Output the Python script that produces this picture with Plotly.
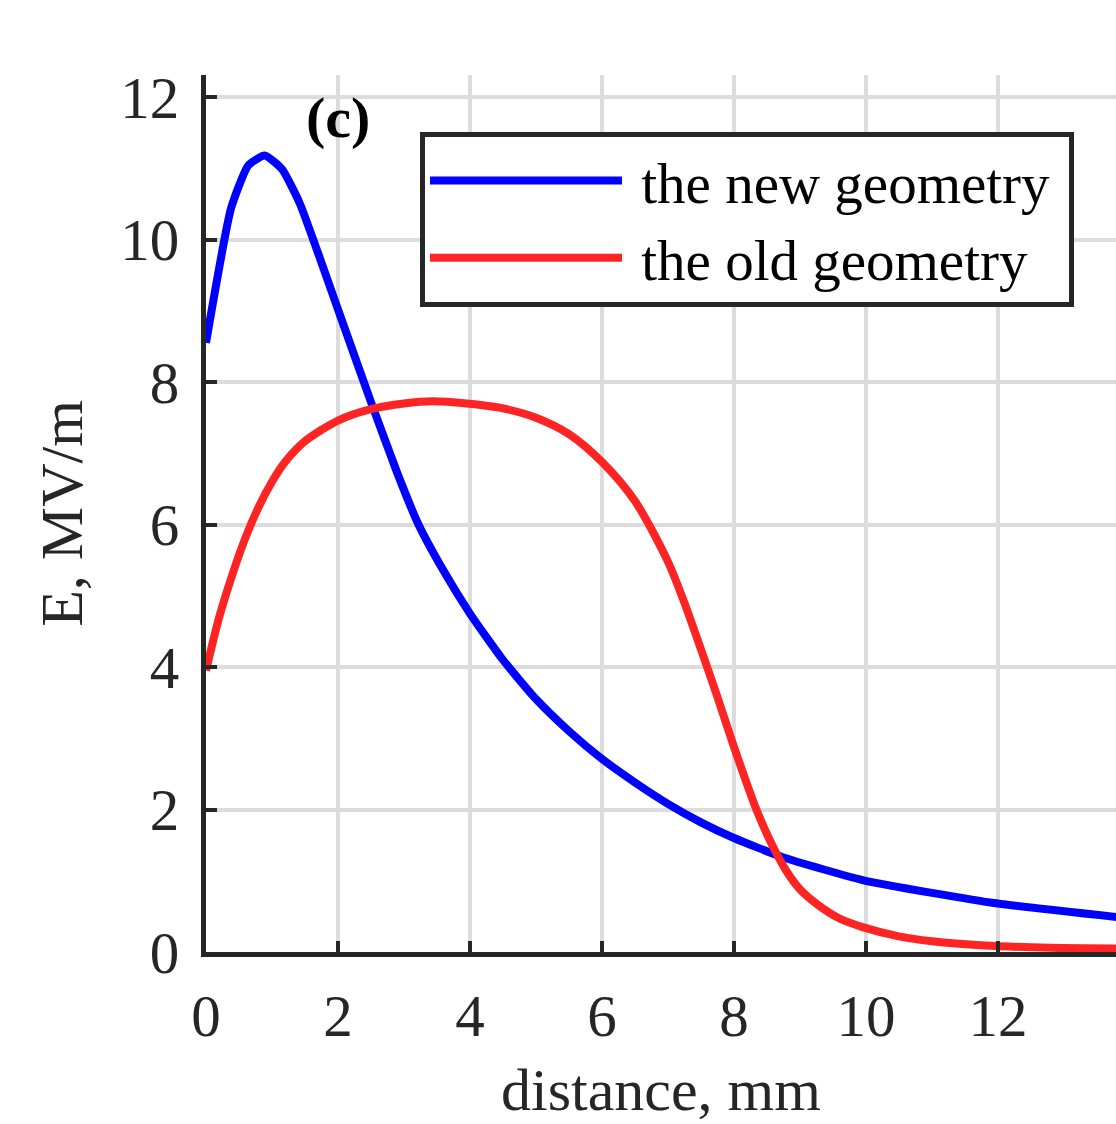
import plotly.graph_objects as go

# Data
new_x = [0, 0.38, 0.64, 0.89, 1.15, 1.42, 2.0, 2.5, 2.9, 3.22, 3.6, 4.0, 4.5, 5.0,
         5.5, 6.0, 6.5, 7.0, 7.5, 8.0, 8.74, 9.95, 11.0, 12.0, 13.8]
new_y = [8.55, 10.44, 11.04, 11.18, 10.99, 10.51, 9.02, 7.72, 6.72, 6.0, 5.35, 4.75, 4.1, 3.55,
         3.1, 2.71, 2.38, 2.08, 1.82, 1.6, 1.33, 1.01, 0.83, 0.68, 0.49]

old_x = [0, 0.2, 0.4, 0.6, 0.8, 1.0, 1.2, 1.5, 2.0, 2.5, 3.0, 3.44, 3.95, 4.45, 5.0,
         5.5, 6.0, 6.5, 7.0, 7.25, 7.5, 7.75, 8.0, 8.17, 8.34, 8.57, 8.8,
         9.0, 9.26, 9.6, 9.95, 10.5, 11.0, 11.8, 12.8, 13.8]
old_y = [3.95, 4.7, 5.3, 5.82, 6.25, 6.6, 6.88, 7.17, 7.46, 7.62, 7.7, 7.73, 7.70, 7.64, 7.5,
         7.27, 6.88, 6.33, 5.48, 4.9, 4.25, 3.58, 2.88, 2.43, 2.0, 1.52, 1.13,
         0.88, 0.67, 0.47, 0.35, 0.22, 0.15, 0.09, 0.06, 0.05]

x_ticks = [0, 2, 4, 6, 8, 10, 12]
y_ticks = [0, 2, 4, 6, 8, 10, 12]

FONT = "Liberation Serif"
AX = "#262626"
NB = "\u00a0"

fig = go.Figure()
fig.add_trace(go.Scatter(x=new_x, y=new_y, mode="lines", name=NB + "the new geometry" + NB,
                         line=dict(color="#0000FF", width=8, shape="spline", smoothing=0.5)))
fig.add_trace(go.Scatter(x=old_x, y=old_y, mode="lines", name=NB + "the old geometry" + NB,
                         line=dict(color="#FF2424", width=8, shape="spline", smoothing=0.8)))

fig.update_layout(
    width=1116, height=1124,
    margin=dict(l=206, r=0, t=75, b=172, autoexpand=False),
    paper_bgcolor="white", plot_bgcolor="white",
    font=dict(family=FONT, size=57, color=AX),
    showlegend=True,
    legend=dict(
        x=(420 - 206) / 910, y=0.935, xanchor="left", yanchor="top",
        bgcolor="white", bordercolor=AX, borderwidth=5,
        font=dict(family=FONT, size=57, color="black"),
        itemwidth=192, tracegroupgap=0,
    ),
    xaxis=dict(
        range=[0, 13.79], tickvals=x_ticks, ticktext=[str(v) for v in x_ticks],
        showline=True, linewidth=5, linecolor=AX, mirror=False,
        ticks="inside", ticklen=11, tickwidth=4, tickcolor=AX,
        showgrid=True, gridcolor="#DCDCDC", gridwidth=4, zeroline=False,
        tickfont=dict(family=FONT, size=59, color=AX),
        ticklabelstandoff=8,
        title=dict(text="distance, mm", font=dict(family=FONT, size=60, color=AX), standoff=22),
    ),
    yaxis=dict(
        range=[0, 12.31], tickvals=y_ticks, ticktext=[str(v) for v in y_ticks],
        showline=True, linewidth=5, linecolor=AX, mirror=False,
        ticks="inside", ticklen=11, tickwidth=4, tickcolor=AX,
        showgrid=True, gridcolor="#DCDCDC", gridwidth=4, zeroline=False,
        tickfont=dict(family=FONT, size=59, color=AX),
        ticklabelstandoff=10,
        title=dict(text="E, MV/m", font=dict(family=FONT, size=60, color=AX), standoff=20),
    ),
    annotations=[dict(text="<b>(c)</b>", xref="x", yref="y", x=2.0, y=11.72,
                      showarrow=False, font=dict(family=FONT, size=58, color="black"))],
)

fig.write_html("out.html")
